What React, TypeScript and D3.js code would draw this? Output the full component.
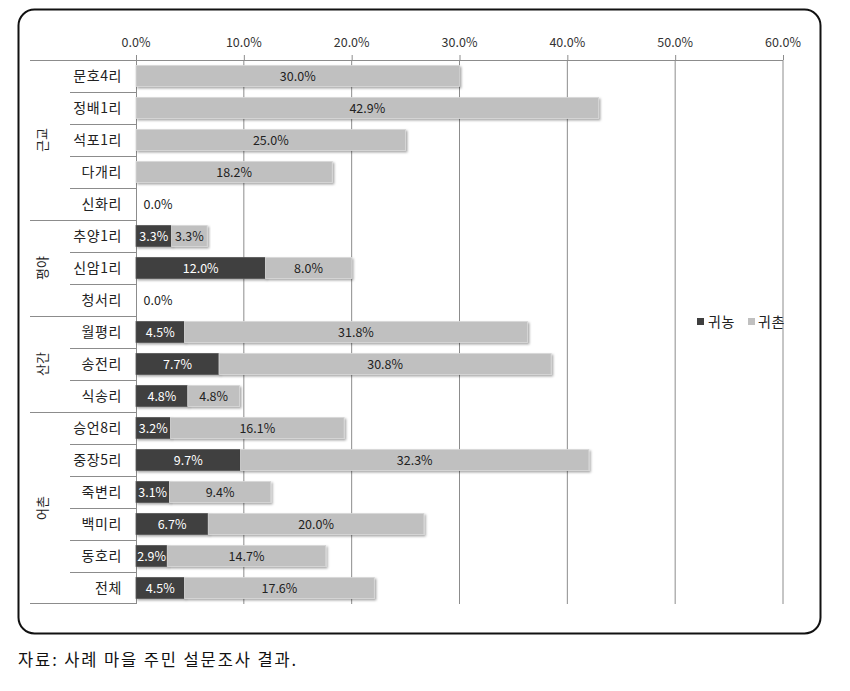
import React from "react";
import * as d3 from "d3";

const groups = ["근교", "평야", "산간", "어촌"];
const groupSizes = [5, 3, 3, 6];
const villages = [
  "문호4리", "정배1리", "석포1리", "다개리", "신화리",
  "추양1리", "신암1리", "청서리",
  "월평리", "송전리", "식송리",
  "승언8리", "중장5리", "죽변리", "백미리", "동호리", "전체",
];
const returnFarm = [0, 0, 0, 0, 0, 3.3, 12.0, 0, 4.5, 7.7, 4.8, 3.2, 9.7, 3.1, 6.7, 2.9, 4.5];
const returnRural = [30.0, 42.9, 25.0, 18.2, 0, 3.3, 8.0, 0, 31.8, 30.8, 4.8, 16.1, 32.3, 9.4, 20.0, 14.7, 17.6];
const seriesNames = ["귀농", "귀촌"];
const xTicks = [0, 10, 20, 30, 40, 50, 60];
const caption = "자료: 사례 마을 주민 설문조사 결과.";

const W = 850;
const H = 691;
const FONT = "'Noto Sans CJK KR', 'Noto Sans', sans-serif";

export default function App() {
  const x = d3.scaleLinear().domain([0, 60]).range([136, 783]);
  const y = d3.scaleBand<number>().domain(d3.range(villages.length)).range([60, 604]).paddingInner(0.34).paddingOuter(0.17);
  const rowY = d3.scaleLinear().domain([0, villages.length]).range([60, 604]);
  const fmt = (v: number) => v.toFixed(1) + "%";
  const dark = "#3f3f3f";
  const light = "#c0c0c0";

  const groupStarts: number[] = [];
  let acc = 0;
  groupSizes.forEach((s) => { groupStarts.push(acc); acc += s; });

  return (
    <svg width={W} height={H} style={{ position: "absolute", left: 0, top: 0 }} fontFamily={FONT}>
      <defs>
        <filter id="sh" x="-5%" y="-20%" width="115%" height="160%">
          <feDropShadow dx="1.5" dy="1.5" stdDeviation="1" floodColor="#000" floodOpacity="0.35" />
        </filter>
      </defs>
      <rect x={0} y={0} width={W} height={H} fill="#fff" />
      <rect x={18.5} y={9.5} width={802} height={624} rx={16} ry={16} fill="#fff" stroke="#111" strokeWidth={2} />

      {/* gridlines */}
      {xTicks.slice(1).map((t) => (
        <line key={"g" + t} x1={x(t)} x2={x(t)} y1={60} y2={604} stroke="#8c8c8c" strokeWidth={1} />
      ))}
      {/* top axis */}
      <line x1={30} x2={x(60)} y1={60.5} y2={60.5} stroke="#8c8c8c" strokeWidth={1} />
      {xTicks.map((t) => (
        <g key={"t" + t}>
          <line x1={x(t) + 0.5} x2={x(t) + 0.5} y1={55} y2={60} stroke="#8c8c8c" />
          <text x={x(t)} y={47} textAnchor="middle" fontSize={12.5} fill="#333">{fmt(t)}</text>
        </g>
      ))}
      {/* left axis */}
      <line x1={136.5} x2={136.5} y1={60} y2={604} stroke="#8c8c8c" strokeWidth={1} />
      <line x1={30} x2={136} y1={603.5} y2={603.5} stroke="#8c8c8c" strokeWidth={1} />
      {villages.map((_, i) => (i > 0 ? (
        <line key={"s" + i}
          x1={groupStarts.includes(i) ? 30 : 70} x2={136}
          y1={Math.round(rowY(i)) + 0.5} y2={Math.round(rowY(i)) + 0.5}
          stroke="#8c8c8c" strokeWidth={1} />
      ) : null))}
      {villages.map((v, i) => (
        <text key={"c" + i} x={122} y={rowY(i + 0.5) + 5} textAnchor="end" fontSize={14} letterSpacing={0.6} fill="#222">{v}</text>
      ))}
      {groups.map((g, gi) => {
        const cy = rowY(groupStarts[gi] + groupSizes[gi] / 2);
        return (
          <text key={"gr" + g} transform={`translate(${47},${cy}) rotate(-90)`} textAnchor="middle" fontSize={13} fill="#222">{g}</text>
        );
      })}

      {/* bars */}
      {villages.map((_, i) => {
        const a = returnFarm[i];
        const b = returnRural[i];
        const yy = y(i)!;
        const bh = y.bandwidth();
        const cy = yy + bh / 2 + 4.5;
        const els: React.ReactNode[] = [];
        if (a > 0) {
          els.push(<rect key="a" x={x(0)} y={yy} width={x(a) - x(0)} height={bh} fill={dark} stroke="#5a5a5a" strokeWidth={0.8} filter="url(#sh)" />);
        }
        if (b > 0) {
          els.push(<rect key="b" x={x(a)} y={yy} width={x(a + b) - x(a)} height={bh} fill={light} stroke="#d8d8d8" strokeWidth={0.8} filter="url(#sh)" />);
        }
        if (a > 0) {
          els.push(<text key="at" x={(x(0) + x(a)) / 2} y={cy} textAnchor="middle" fontSize={12.5} fill="#fff">{fmt(a)}</text>);
        }
        if (b > 0) {
          els.push(<text key="bt" x={(x(a) + x(a + b)) / 2} y={cy} textAnchor="middle" fontSize={12.5} fill="#222">{fmt(b)}</text>);
        }
        if (a === 0 && b === 0) {
          els.push(<text key="z" x={x(0) + 22} y={cy} textAnchor="middle" fontSize={12.5} fill="#222">{fmt(0)}</text>);
        }
        return <g key={"b" + i}>{els}</g>;
      })}

      {/* legend */}
      <g transform="translate(697,322)">
        <rect x={0} y={-4} width={7} height={7} fill={dark} />
        <text x={11} y={4.5} fontSize={14} letterSpacing={0.5} fill="#222">{seriesNames[0]}</text>
        <rect x={51} y={-4} width={7} height={7} fill={light} />
        <text x={61} y={4.5} fontSize={14} letterSpacing={0.5} fill="#222">{seriesNames[1]}</text>
      </g>

      <text x={18} y={666} fontSize={16.5} fill="#111" letterSpacing={1.9}>{caption}</text>
    </svg>
  );
}
